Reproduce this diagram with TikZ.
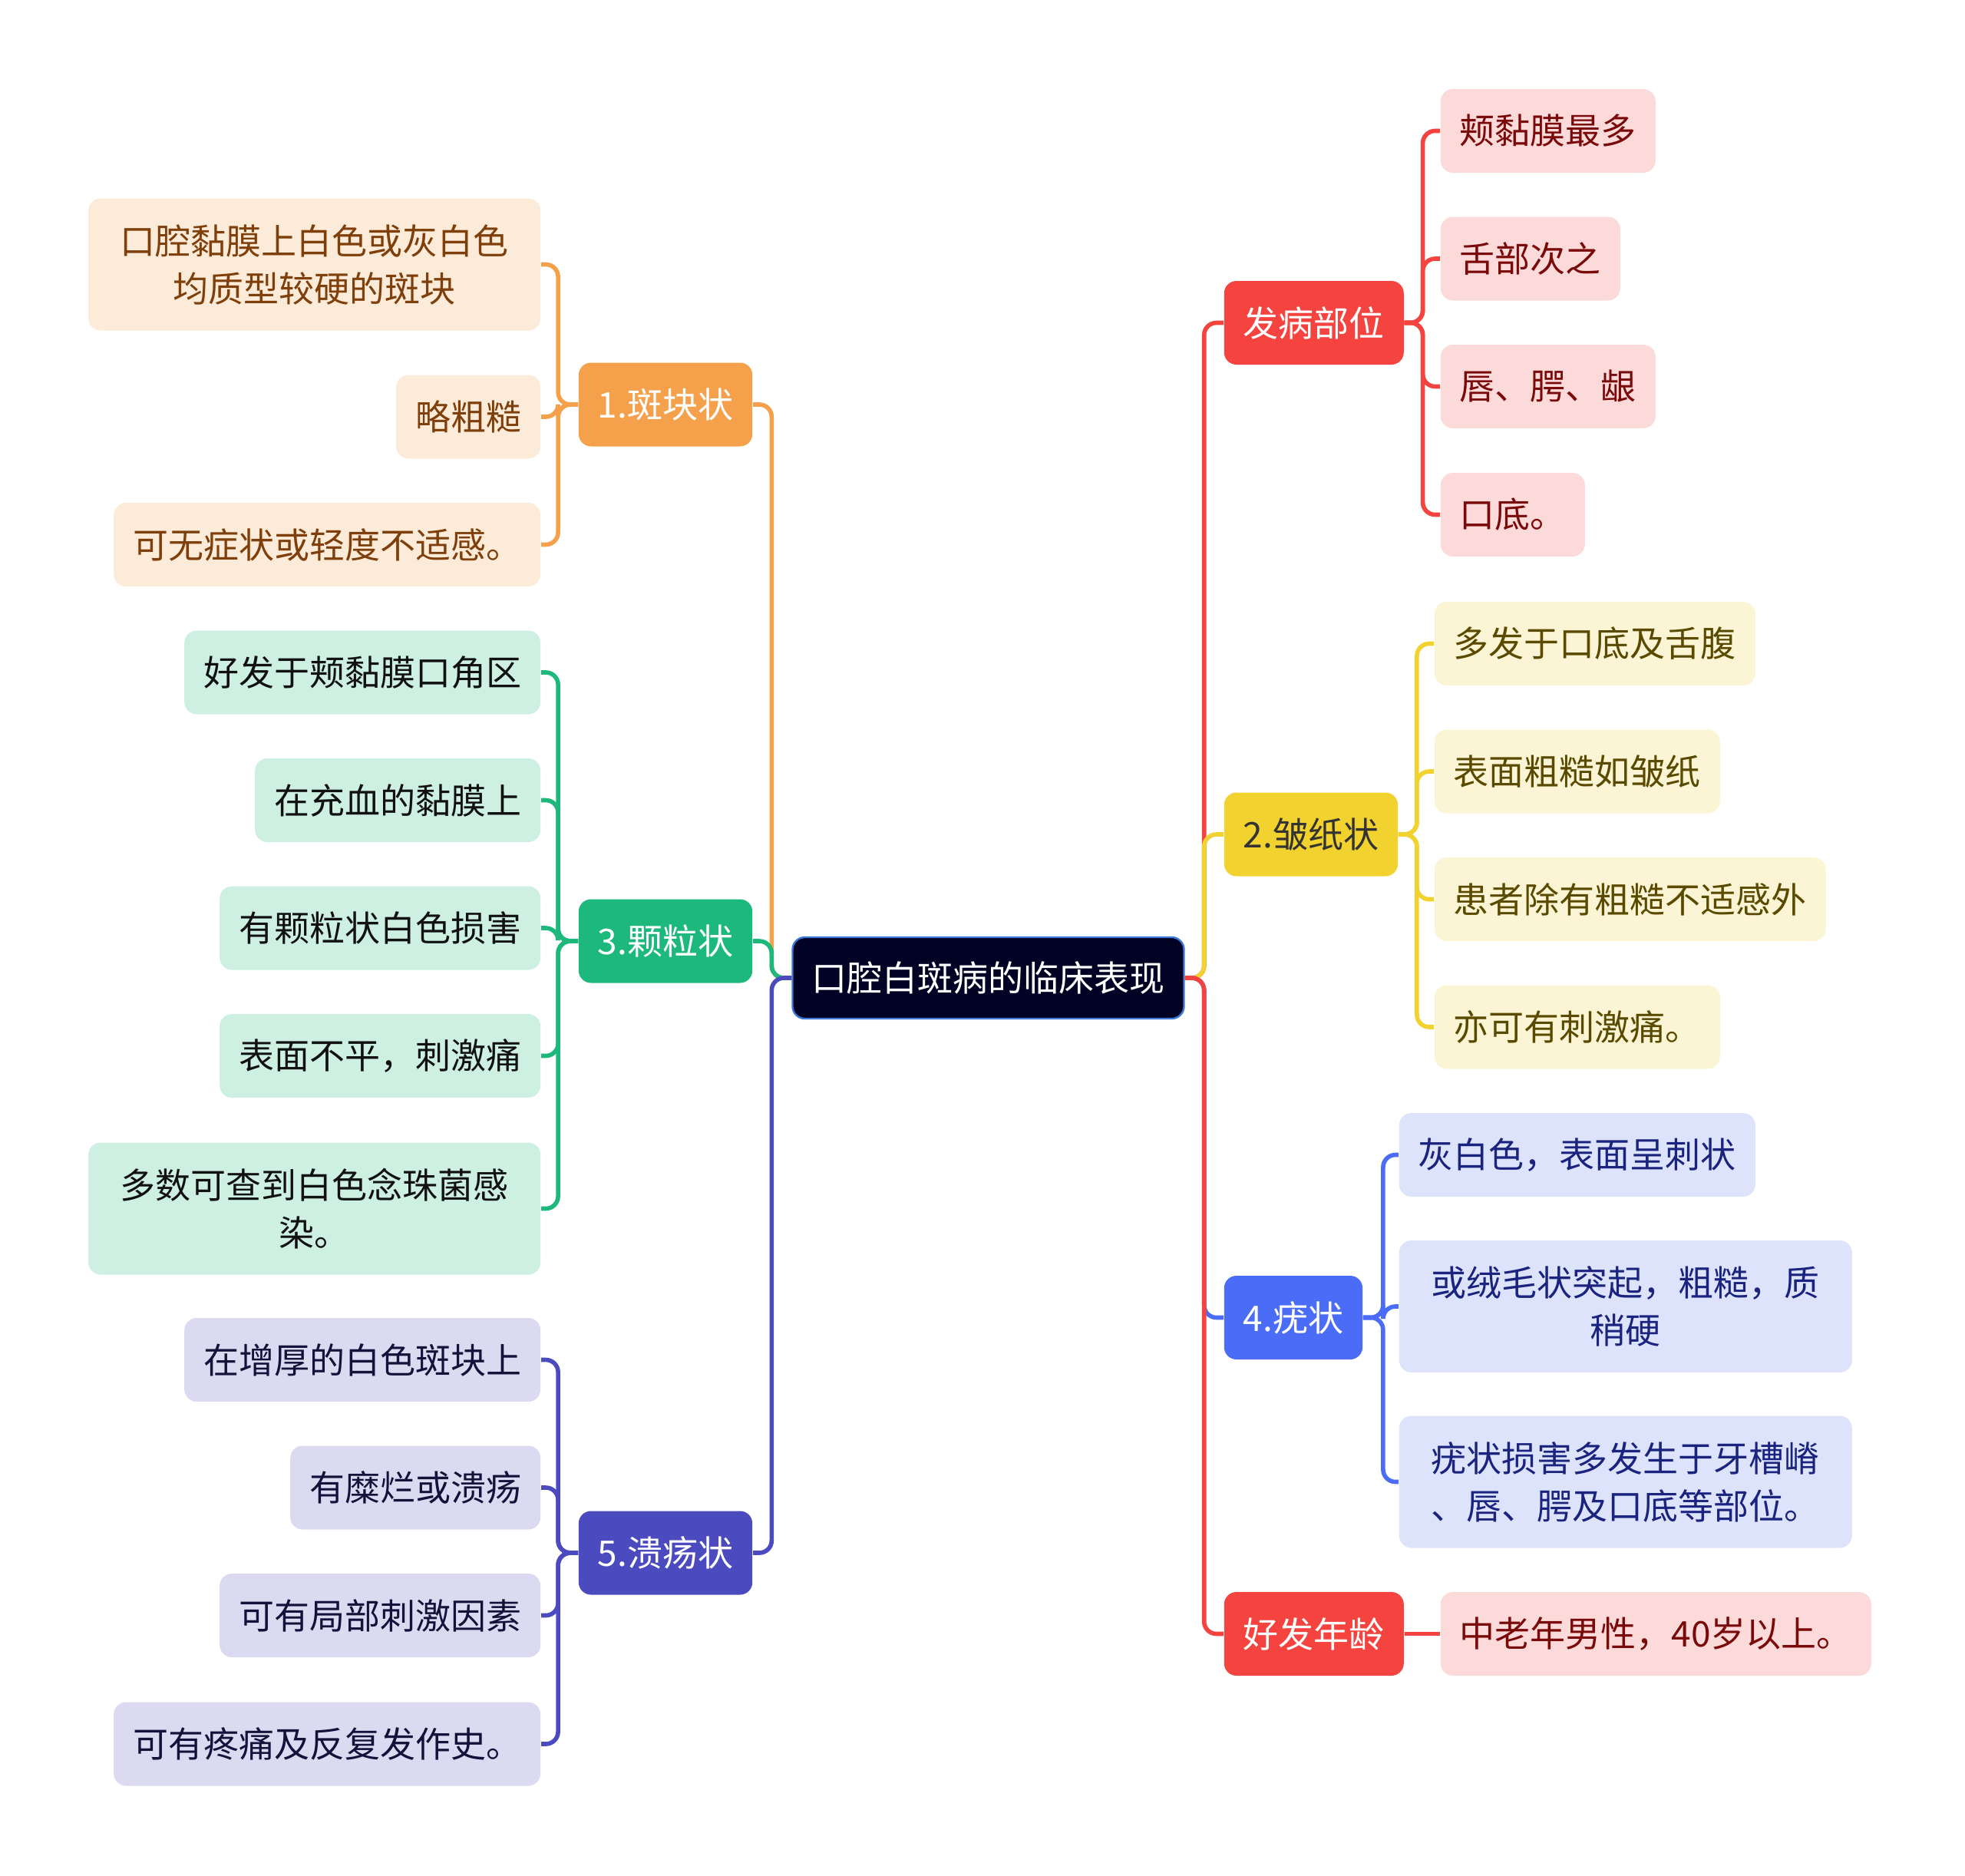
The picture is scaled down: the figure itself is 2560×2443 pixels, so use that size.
\documentclass[tikz,border=0pt]{standalone}
\usepackage{fontspec}
\setmainfont{Noto Sans CJK SC}
\definecolor{orM}{HTML}{F5A04A}\definecolor{orL}{HTML}{FDEBDA}\definecolor{orT}{HTML}{7F3F0A}
\definecolor{grM}{HTML}{1DB97C}\definecolor{grL}{HTML}{CDF0E2}\definecolor{grT}{HTML}{111111}
\definecolor{puM}{HTML}{4B4ABF}\definecolor{puL}{HTML}{DCDAF1}\definecolor{puT}{HTML}{14123A}
\definecolor{reM}{HTML}{F5443F}\definecolor{reL}{HTML}{FDDADA}\definecolor{reT}{HTML}{7A0A0A}
\definecolor{yeM}{HTML}{F2D22E}\definecolor{yeL}{HTML}{FCF5D5}\definecolor{yeT}{HTML}{5A4A00}
\definecolor{blM}{HTML}{4A6CF7}\definecolor{blL}{HTML}{DCE3FB}\definecolor{blT}{HTML}{1A237E}
\definecolor{rootF}{HTML}{020224}\definecolor{rootB}{HTML}{3C78D8}
\begin{document}
\begin{tikzpicture}[x=0.25pt,y=-0.25pt,
  every node/.style={font=\fontsize{11.5pt}{15.5pt}\selectfont, inner ysep=0pt, inner xsep=6.25pt, rounded corners=4pt},
  box/.style={minimum height=27.25pt, align=center},
  two/.style={minimum height=43pt, minimum width=147.25pt, align=center},
  main/.style={box, fill=#1M, text=white},
  leaf/.style={fill=#1L, text=#1T},
  conn/.style={draw=#1M, line width=1.4pt, rounded corners=4pt},
]
\useasboundingbox (0,0) rectangle (2560,2443);
% root
\node[box, fill=rootF, draw=rootB, line width=0.6pt, text=white, minimum height=26.5pt] (root) at (1287.5,1274) {口腔白斑病的临床表现};
% left level 1
\node[main=or, anchor=east] (b1) at (981,527) {1.斑块状};
\node[main=gr, anchor=east] (b3) at (981,1226) {3.颗粒状};
\node[main=pu, anchor=east] (b5) at (981,2023) {5.溃疡状};
% right level 1
\node[main=re, anchor=west] (bA) at (1594,420.5) {发病部位};
\node[main=ye, anchor=west, text=black!80] (b2) at (1594,1087) {2.皱纸状};
\node[main=bl, anchor=west] (b4) at (1594,1716.5) {4.疣状};
\node[main=re, anchor=west] (bB) at (1594,2128.5) {好发年龄};
% leaves of 1
\node[two, leaf=or, anchor=east] (l1a) at (705,344.5) {口腔黏膜上白色或灰白色\\均质型较硬的斑块};
\node[box, leaf=or, anchor=east] (l1b) at (705,543) {略粗糙};
\node[box, leaf=or, anchor=east] (l1c) at (705,709.5) {可无症状或轻度不适感。};
% leaves of 3
\node[box, leaf=gr, anchor=east] (l3a) at (705,876) {好发于颊黏膜口角区};
\node[box, leaf=gr, anchor=east] (l3b) at (705,1042.5) {在充血的黏膜上};
\node[box, leaf=gr, anchor=east] (l3c) at (705,1209) {有颗粒状白色损害};
\node[box, leaf=gr, anchor=east] (l3d) at (705,1375.5) {表面不平，刺激痛};
\node[two, leaf=gr, anchor=east] (l3e) at (705,1574.5) {多数可查到白色念珠菌感\\染。};
% leaves of 5
\node[box, leaf=pu, anchor=east] (l5a) at (705,1771.5) {在增厚的白色斑块上};
\node[box, leaf=pu, anchor=east] (l5b) at (705,1938) {有糜烂或溃疡};
\node[box, leaf=pu, anchor=east] (l5c) at (705,2104.5) {可有局部刺激因素};
\node[box, leaf=pu, anchor=east] (l5d) at (705,2272) {可有疼痛及反复发作史。};
% leaves of A
\node[box, leaf=re, anchor=west] (lAa) at (1876,170.5) {颊黏膜最多};
\node[box, leaf=re, anchor=west] (lAb) at (1876,337) {舌部次之};
\node[box, leaf=re, anchor=west] (lAc) at (1876,503.5) {唇、腭、龈};
\node[box, leaf=re, anchor=west] (lAd) at (1876,670.5) {口底。};
% leaves of 2
\node[box, leaf=ye, anchor=west] (l2a) at (1868,838.5) {多发于口底及舌腹};
\node[box, leaf=ye, anchor=west] (l2b) at (1868,1005) {表面粗糙如皱纸};
\node[box, leaf=ye, anchor=west] (l2c) at (1868,1171.5) {患者除有粗糙不适感外};
\node[box, leaf=ye, anchor=west] (l2d) at (1868,1338) {亦可有刺激痛。};
% leaves of 4
\node[box, leaf=bl, anchor=west] (l4a) at (1822,1504.5) {灰白色，表面呈刺状};
\node[two, leaf=bl, anchor=west, minimum width=147.5pt] (l4b) at (1822,1702) {或绒毛状突起，粗糙，质\\稍硬};
\node[two, leaf=bl, anchor=west, minimum width=147.5pt] (l4c) at (1822,1930.5) {疣状损害多发生于牙槽嵴\\、唇、腭及口底等部位。};
% leaf of B
\node[box, leaf=re, anchor=west] (lBa) at (1876,2128.5) {中老年男性，40岁以上。};
% connectors root
\draw[conn=or] (root.west) -- ++(-26,0) |- (b1.east);
\draw[conn=gr] (root.west) -- ++(-26,0) |- (b3.east);
\draw[conn=pu] (root.west) -- ++(-26,0) |- (b5.east);
\draw[conn=re] (root.east) -- ++(25,0) |- (bA.west);
\draw[conn=ye] (root.east) -- ++(25,0) |- (b2.west);
\draw[conn=bl] (root.east) -- ++(25,0) |- (b4.west);
\draw[conn=re] (root.east) -- ++(25,0) |- (bB.west);
% connectors left
\foreach \c in {l1a,l1b,l1c}{\draw[conn=or] (b1.west) -- ++(-26,0) |- (\c.east);}
\foreach \c in {l3a,l3b,l3c,l3d,l3e}{\draw[conn=gr] (b3.west) -- ++(-26,0) |- (\c.east);}
\foreach \c in {l5a,l5b,l5c,l5d}{\draw[conn=pu] (b5.west) -- ++(-26,0) |- (\c.east);}
% connectors right
\foreach \c in {lAa,lAb,lAc,lAd}{\draw[conn=re] (bA.east) -- ++(24,0) |- (\c.west);}
\foreach \c in {l2a,l2b,l2c,l2d}{\draw[conn=ye] (b2.east) -- ++(24,0) |- (\c.west);}
\foreach \c in {l4a,l4b,l4c}{\draw[conn=bl] (b4.east) -- ++(26,0) |- (\c.west);}
\draw[conn=re] (bB.east) -- (lBa.west);
\end{tikzpicture}
\end{document}
